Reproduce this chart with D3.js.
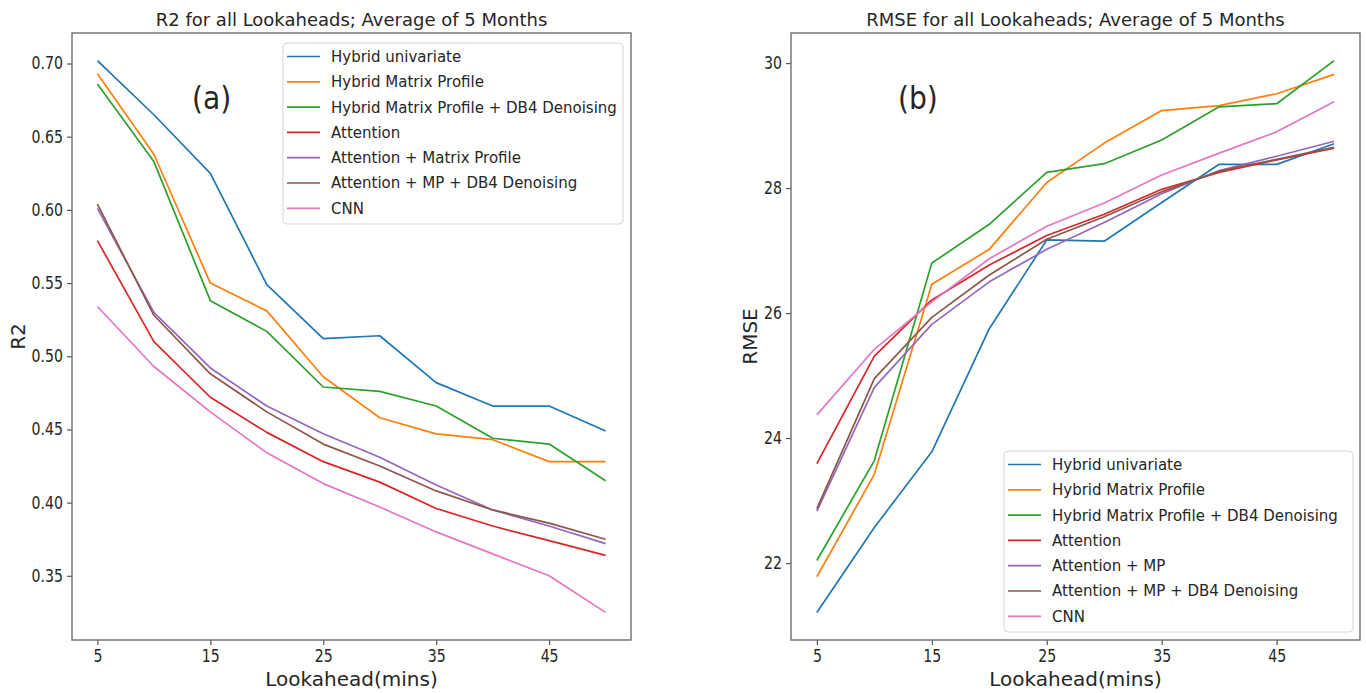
<!DOCTYPE html>
<html>
<head>
<meta charset="utf-8">
<script src="https://cdn.jsdelivr.net/npm/d3@7/dist/d3.min.js"></script>
<style>
  body { margin: 0; background: #fff; }
  text { font-family: "DejaVu Sans", sans-serif; fill: #262626; }
</style>
</head>
<body>
<svg id="chart" width="1366" height="693"></svg>
<script>
// lookahead in minutes
var lookahead = [5, 10, 15, 20, 25, 30, 35, 40, 45, 50];

var colors = ["#1f77b4", "#ff7f0e", "#2ca02c", "#d62728", "#9467bd", "#8c564b", "#e377c2"];

var r2Names = ["Hybrid univariate", "Hybrid Matrix Profile", "Hybrid Matrix Profile + DB4 Denoising",
  "Attention", "Attention + Matrix Profile", "Attention + MP + DB4 Denoising", "CNN"];
var rmseNames = ["Hybrid univariate", "Hybrid Matrix Profile", "Hybrid Matrix Profile + DB4 Denoising",
  "Attention", "Attention + MP", "Attention + MP + DB4 Denoising", "CNN"];

// R2 values (panel a)
var r2HybridUni   = [0.702, 0.665, 0.625, 0.549, 0.512, 0.514, 0.482, 0.466, 0.466, 0.449];
var r2HybridMP    = [0.693, 0.638, 0.550, 0.531, 0.486, 0.458, 0.447, 0.443, 0.428, 0.428];
var r2HybridMPDB4 = [0.686, 0.633, 0.538, 0.517, 0.479, 0.476, 0.466, 0.444, 0.440, 0.415];
var r2Attention   = [0.579, 0.510, 0.472, 0.448, 0.428, 0.414, 0.396, 0.384, 0.374, 0.364];
var r2AttMP       = [0.601, 0.530, 0.492, 0.466, 0.447, 0.431, 0.412, 0.395, 0.384, 0.372];
var r2AttMPDB4    = [0.604, 0.528, 0.488, 0.462, 0.440, 0.425, 0.408, 0.395, 0.386, 0.375];
var r2CNN         = [0.534, 0.493, 0.462, 0.434, 0.413, 0.397, 0.380, 0.365, 0.350, 0.325];

// RMSE values (panel b)
var rmseHybridUni   = [21.21, 22.57, 23.78, 25.75, 27.17, 27.15, 27.77, 28.38, 28.38, 28.71];
var rmseHybridMP    = [21.78, 23.42, 26.46, 27.02, 28.09, 28.72, 29.24, 29.32, 29.51, 29.82];
var rmseHybridMPDB4 = [22.04, 23.64, 26.80, 27.42, 28.25, 28.39, 28.77, 29.30, 29.35, 30.04];
var rmseAttention   = [23.59, 25.31, 26.21, 26.77, 27.24, 27.58, 27.98, 28.25, 28.45, 28.64];
var rmseAttMP       = [22.83, 24.81, 25.82, 26.50, 27.02, 27.45, 27.91, 28.28, 28.51, 28.75];
var rmseAttMPDB4    = [22.87, 24.95, 25.93, 26.61, 27.18, 27.54, 27.94, 28.27, 28.46, 28.65];
var rmseCNN         = [24.37, 25.42, 26.18, 26.87, 27.39, 27.76, 28.21, 28.56, 28.90, 29.38];

var xTicks = [5, 15, 25, 35, 45];
var r2Ticks = [0.35, 0.40, 0.45, 0.50, 0.55, 0.60, 0.65, 0.70];
var rmseTicks = [22, 24, 26, 28, 30];

var svg = d3.select("#chart");
var tickScaleX = 0.83; // tick labels look squeezed in the original

function drawPanel(p) {
  var g = svg.append("g");
  var all = [].concat.apply([], p.series);
  var lo = d3.min(all), hi = d3.max(all), pad = (hi - lo) * 0.05;
  var xPad = (d3.max(lookahead) - d3.min(lookahead)) * 0.05;

  var x = d3.scaleLinear()
    .domain([d3.min(lookahead) - xPad, d3.max(lookahead) + xPad])
    .range([p.left, p.right]);
  var y = d3.scaleLinear().domain([lo - pad, hi + pad]).range([p.bottom, p.top]);

  // lines
  var line = d3.line().x(function (d, i) { return x(lookahead[i]); }).y(function (d) { return y(d); });
  p.series.forEach(function (s, i) {
    g.append("path")
      .attr("d", line(s))
      .attr("fill", "none")
      .attr("stroke", colors[i])
      .attr("stroke-width", 1.7)
      .attr("stroke-linejoin", "round");
  });

  // axes
  var xAxis = g.append("g")
    .attr("transform", "translate(0," + p.bottom + ")")
    .call(d3.axisBottom(x).tickValues(xTicks).tickSize(5).tickPadding(4).tickFormat(d3.format("d")));
  var yAxis = g.append("g")
    .attr("transform", "translate(" + p.left + ",0)")
    .call(d3.axisLeft(y).tickValues(p.yTicks).tickSize(5).tickPadding(4).tickFormat(p.yFormat));
  [xAxis, yAxis].forEach(function (a) {
    a.select(".domain").remove();
    a.selectAll("line").attr("stroke", "#555").attr("stroke-width", 1.2);
    a.selectAll("text")
      .style("font-size", "17px")
      .attr("fill", "#262626")
      .attr("transform", "scale(" + tickScaleX + ",1)");
  });
  yAxis.selectAll("text").attr("x", -9 / tickScaleX);
  xAxis.selectAll("text").attr("y", 10);

  // frame
  g.append("rect")
    .attr("x", p.left).attr("y", p.top)
    .attr("width", p.right - p.left).attr("height", p.bottom - p.top)
    .attr("fill", "none").attr("stroke", "#6e6e6e").attr("stroke-width", 1.4);

  // title and labels
  g.append("text")
    .attr("x", (p.left + p.right) / 2).attr("y", 26)
    .attr("text-anchor", "middle").style("font-size", "18px")
    .text(p.title);
  g.append("text")
    .attr("x", (p.left + p.right) / 2).attr("y", 686)
    .attr("text-anchor", "middle").style("font-size", "20px")
    .text("Lookahead(mins)");
  g.append("text")
    .attr("transform", "translate(" + p.yLabelX + "," + (p.top + p.bottom) / 2 + ") rotate(-90)")
    .attr("text-anchor", "middle").style("font-size", "20px")
    .text(p.yLabel);
  g.append("text")
    .attr("transform", "translate(" + p.tagX + ",109) scale(0.88,1)")
    .style("font-size", "32px")
    .attr("fill", "#000")
    .text(p.tag);

  // legend
  var lg = g.append("g").attr("transform", "translate(" + p.legX + "," + p.legY + ")");
  lg.append("rect")
    .attr("width", p.legW).attr("height", 181).attr("rx", 4)
    .attr("fill", "#fff").attr("fill-opacity", 0.85)
    .attr("stroke", "#d6d6d6").attr("stroke-width", 1);
  p.names.forEach(function (n, i) {
    var cy = 13.5 + i * 25.3;
    lg.append("line")
      .attr("x1", 4).attr("x2", 37).attr("y1", cy).attr("y2", cy)
      .attr("stroke", colors[i]).attr("stroke-width", 1.7);
    lg.append("text")
      .attr("x", 48).attr("y", cy).attr("dy", "0.36em")
      .style("font-size", "15px")
      .text(n);
  });
}

drawPanel({
  left: 72, right: 631, top: 33, bottom: 640,
  series: [r2HybridUni, r2HybridMP, r2HybridMPDB4, r2Attention, r2AttMP, r2AttMPDB4, r2CNN],
  names: r2Names,
  yTicks: r2Ticks, yFormat: d3.format(".2f"),
  title: "R2 for all Lookaheads; Average of 5 Months",
  yLabel: "R2", yLabelX: 25,
  tag: "(a)", tagX: 192,
  legX: 283, legY: 43, legW: 340
});

drawPanel({
  left: 791, right: 1360, top: 33, bottom: 640,
  series: [rmseHybridUni, rmseHybridMP, rmseHybridMPDB4, rmseAttention, rmseAttMP, rmseAttMPDB4, rmseCNN],
  names: rmseNames,
  yTicks: rmseTicks, yFormat: d3.format("d"),
  title: "RMSE for all Lookaheads; Average of 5 Months",
  yLabel: "RMSE", yLabelX: 757,
  tag: "(b)", tagX: 898,
  legX: 1004, legY: 451, legW: 349
});
</script>
</body>
</html>
